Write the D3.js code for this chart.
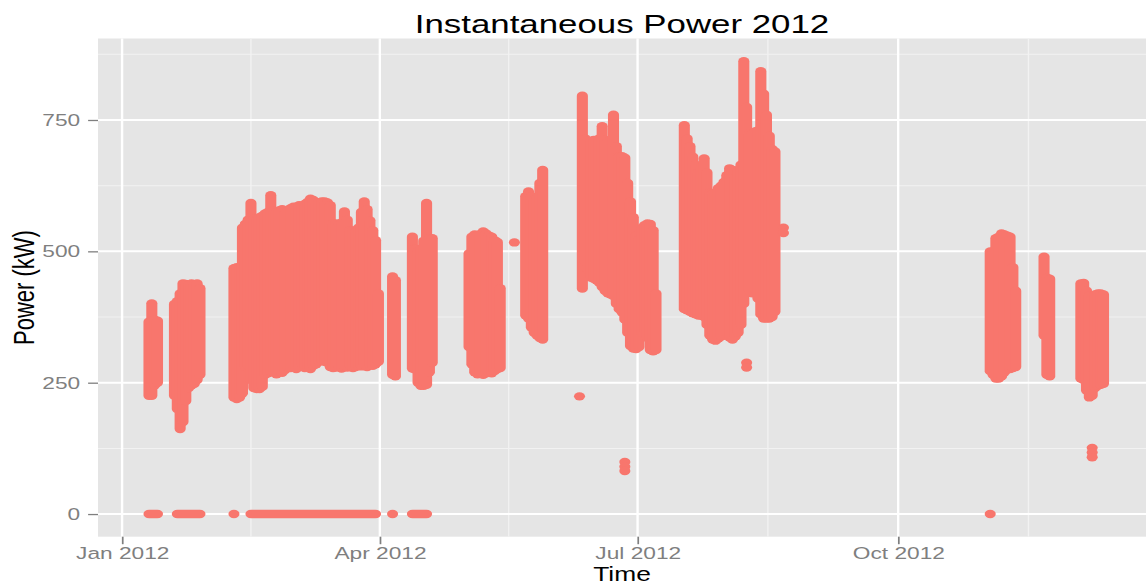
<!DOCTYPE html>
<html>
<head>
<meta charset="utf-8">
<script src="https://cdn.jsdelivr.net/npm/d3@7"></script>
<style>
  body { margin: 0; background: #fff; }
  svg { display: block; font-family: "Liberation Sans", Arial, sans-serif; }
</style>
</head>
<body>
<svg id="chart" width="1146" height="586"></svg>
<script>
////// DATA //////
var chartTitle = "Instantaneous Power 2012";
var xTitle = "Time";
var yTitle = "Power (kW)";
var yTicks = [0, 250, 500, 750];
var xLimits = ["2011-12-23", "2012-12-27"];

// runs of consecutive days with readings: first day of the run,
// then the lowest / highest reading (kW) of each day
var runStart = ["2012-01-10", "2012-01-19", "2012-02-09", "2012-04-05", "2012-04-12", "2012-05-02",
                "2012-05-22", "2012-06-11", "2012-07-17", "2012-11-02", "2012-11-21", "2012-12-04"];

var runMin = [
  [225, 225, 245, 250],
  [225, 200, 162, 175, 215, 240, 245, 248, 255, 265],
  [222, 219, 222, 230, 280, 283, 255, 240, 238, 238, 242, 265, 268, 272, 270, 266, 272, 269, 274,
   280, 278, 282, 276, 280, 284, 278, 280, 276, 282, 285, 290, 292, 290, 288, 280, 278, 279, 282,
   277, 280, 279, 283, 278, 280, 282, 281, 284, 280, 283, 282, 285, 290],
  [265, 262],
  [277, 275, 250, 244, 244, 246, 270, 288],
  [318, 285, 270, 266, 268, 265, 268, 270, 268, 272, 276, 278],
  [378, 372, 355, 345, 340, 335, 332],
  [429, 480, 465, 450, 448, 445, 440, 432, 425, 420, 418, 415, 400, 390, 384, 370, 345, 320, 315,
   314, 318, 345, 350, 335, 312, 310, 312],
  [390, 388, 385, 382, 380, 378, 378, 375, 360, 340, 332, 330, 334, 338, 340, 342, 336, 332, 338,
   345, 360, 400, 428, 425, 420, 428, 410, 380, 372, 372, 372, 375, 385],
  [272, 265, 258, 258, 262, 270, 275, 276, 278, 280],
  [340, 265, 262],
  [258, 255, 235, 222, 225, 240, 244, 246, 248]
];

var runMax = [
  [366, 401, 370, 368],
  [400, 405, 420, 439, 438, 436, 439, 437, 439, 430],
  [468, 470, 468, 545, 552, 560, 592, 562, 560, 565, 568, 572, 575, 607, 578, 575, 578, 580, 572,
   578, 582, 585, 583, 588, 586, 590, 594, 600, 598, 590, 593, 595, 595, 593, 588, 553, 553, 550,
   555, 576, 560, 540, 540, 538, 545, 575, 595, 580, 559, 540, 521, 420],
  [452, 445],
  [528, 505, 500, 505, 520, 592, 525, 525],
  [496, 528, 532, 530, 533, 538, 534, 530, 528, 521, 518, 430],
  [605, 614, 605, 598, 600, 630, 655],
  [796, 715, 710, 710, 712, 712, 715, 738, 712, 710, 712, 760, 700, 681, 681, 678, 630, 595, 565,
   530, 522, 545, 550, 553, 552, 540, 420],
  [740, 715, 700, 680, 665, 650, 660, 677, 650, 611, 610, 612, 620, 625, 632, 645, 658, 655, 640,
   655, 665, 862, 775, 725, 725, 728, 730, 843, 800, 760, 720, 695, 690],
  [500, 500, 525, 528, 534, 532, 530, 528, 470, 425],
  [490, 450, 448],
  [439, 440, 425, 416, 412, 418, 420, 420, 418]
];

// stretches of days where the meter logged 0 kW
var zeroFrom = ["2012-01-10", "2012-01-20", "2012-02-09", "2012-02-15", "2012-04-05", "2012-04-12", "2012-11-02"];
var zeroTo   = ["2012-01-13", "2012-01-28", "2012-02-09", "2012-03-30", "2012-04-05", "2012-04-17", "2012-11-02"];

// stray readings away from the daily bands
var strayDate = ["2012-05-18", "2012-06-10", "2012-06-26", "2012-06-26", "2012-06-26", "2012-08-08",
                 "2012-08-08", "2012-08-21", "2012-08-21", "2012-12-08", "2012-12-08", "2012-12-08"];
var strayKW   = [517, 224, 99, 90, 82, 288, 279, 545, 535, 126, 117, 108];
/////////


var pointColor = "#F8766D";
var stretch = 1.32;   // the picture is wider than it is tall, text and dots included
var W = 1146 / stretch;

var panel = { left: 98 / stretch, right: W, top: 38.5, bottom: 536.7 };

var parseDay = d3.utcParse("%Y-%m-%d");
var noon = function(day) { return d3.utcHour.offset(day, 12); };

var days = [];
runStart.forEach(function(s, r) {
  var first = parseDay(s);
  runMin[r].forEach(function(lo, i) {
    days.push({ t: noon(d3.utcDay.offset(first, i)), lo: lo, hi: runMax[r][i] });
  });
});

var zeros = zeroFrom.map(function(f, i) {
  return { from: noon(parseDay(f)), to: noon(parseDay(zeroTo[i])) };
});

var strays = strayDate.map(function(d, i) {
  return { t: noon(parseDay(d)), v: strayKW[i] };
});

// ggplot style 5% padding on the value range
var yMax = Math.max(d3.max(days, function(d) { return d.hi; }), d3.max(strayKW));
var yPad = 0.05 * yMax;

var x = d3.scaleUtc()
    .domain([noon(parseDay(xLimits[0])), noon(parseDay(xLimits[1]))])
    .range([panel.left, panel.right]);

var y = d3.scaleLinear()
    .domain([-yPad, yMax + yPad])
    .range([panel.bottom, panel.top]);

var svg = d3.select("#chart");
svg.append("rect").attr("width", 1146).attr("height", 586).attr("fill", "#fff");

var g = svg.append("g").attr("transform", "scale(" + stretch + ",1)");

g.append("rect")
    .attr("x", panel.left).attr("y", panel.top)
    .attr("width", panel.right - panel.left)
    .attr("height", panel.bottom - panel.top)
    .attr("fill", "#E5E5E5");

// grid: major at ticks, minor half way between
var xMajor = d3.utcMonth.every(3).range(parseDay("2011-10-01"), parseDay("2013-02-01"));
var xMinor = [];
for (var i = 1; i < xMajor.length; i++) {
  xMinor.push(new Date((+xMajor[i - 1] + +xMajor[i]) / 2));
}
var inX = function(d) { return d >= x.domain()[0] && d <= x.domain()[1]; };
xMajor = xMajor.filter(inX);
xMinor = xMinor.filter(inX);

var yStep = yTicks[1] - yTicks[0];
var yMinor = yTicks.map(function(v) { return v + yStep / 2; })
    .filter(function(v) { return v < y.domain()[1]; });

var grid = g.append("g");

grid.selectAll(".yminor").data(yMinor).enter().append("line")
    .attr("x1", panel.left).attr("x2", panel.right)
    .attr("y1", function(d) { return y(d); }).attr("y2", function(d) { return y(d); })
    .attr("stroke", "#F2F2F2").attr("stroke-width", 1);

grid.selectAll(".xminor").data(xMinor).enter().append("line")
    .attr("x1", function(d) { return x(d); }).attr("x2", function(d) { return x(d); })
    .attr("y1", panel.top).attr("y2", panel.bottom)
    .attr("stroke", "#F2F2F2").attr("stroke-width", 1);

grid.selectAll(".ymajor").data(yTicks).enter().append("line")
    .attr("x1", panel.left).attr("x2", panel.right)
    .attr("y1", function(d) { return y(d); }).attr("y2", function(d) { return y(d); })
    .attr("stroke", "#fff").attr("stroke-width", 2);

grid.selectAll(".xmajor").data(xMajor).enter().append("line")
    .attr("x1", function(d) { return x(d); }).attr("x2", function(d) { return x(d); })
    .attr("y1", panel.top).attr("y2", panel.bottom)
    .attr("stroke", "#fff").attr("stroke-width", 1.8);

// readings
var marks = g.append("g").attr("stroke", pointColor).attr("fill", pointColor)
    .attr("stroke-linecap", "round").attr("stroke-width", 8.4);

marks.selectAll(".day").data(days).enter().append("line")
    .attr("class", "day")
    .attr("x1", function(d) { return x(d.t); }).attr("x2", function(d) { return x(d.t); })
    .attr("y1", function(d) { return y(d.lo); }).attr("y2", function(d) { return y(d.hi); });

marks.selectAll(".zero").data(zeros).enter().append("line")
    .attr("class", "zero")
    .attr("x1", function(d) { return x(d.from); }).attr("x2", function(d) { return x(d.to); })
    .attr("y1", y(0)).attr("y2", y(0));

marks.selectAll(".stray").data(strays).enter().append("circle")
    .attr("class", "stray")
    .attr("stroke", "none")
    .attr("cx", function(d) { return x(d.t); })
    .attr("cy", function(d) { return y(d.v); })
    .attr("r", 4.2);

// axes
var xAxis = d3.axisBottom(x)
    .tickValues(xMajor)
    .tickFormat(d3.utcFormat("%b %Y"))
    .tickSizeInner(7.5).tickSizeOuter(0).tickPadding(3);

var yAxis = d3.axisLeft(y)
    .tickValues(yTicks)
    .tickSizeInner(7.5).tickSizeOuter(0).tickPadding(6);

var styleAxis = function(sel) {
  sel.select(".domain").remove();
  sel.selectAll(".tick line").attr("stroke", "#7F7F7F").attr("stroke-width", 1.3);
  sel.selectAll(".tick text")
      .attr("fill", "#7F7F7F")
      .style("font-family", '"Liberation Sans", Arial, sans-serif')
      .style("font-size", "17.2px");
};

g.append("g")
    .attr("transform", "translate(0," + panel.bottom + ")")
    .call(xAxis)
    .call(styleAxis);

g.append("g")
    .attr("transform", "translate(" + panel.left + ",0)")
    .call(yAxis)
    .call(styleAxis);

// titles
var midX = (panel.left + panel.right) / 2;

g.append("text")
    .attr("x", midX).attr("y", 33.5)
    .attr("text-anchor", "middle")
    .attr("font-size", "26.4px")
    .attr("fill", "#000")
    .text(chartTitle);

g.append("text")
    .attr("x", midX).attr("y", 581.5)
    .attr("text-anchor", "middle")
    .attr("font-size", "20px")
    .attr("fill", "#000")
    .text(xTitle);

g.append("text")
    .attr("transform", "translate(" + (34 / stretch) + "," + ((panel.top + panel.bottom) / 2) + ") rotate(-90)")
    .attr("text-anchor", "middle")
    .attr("font-size", "22px")
    .attr("fill", "#000")
    .text(yTitle);
</script>
</body>
</html>
